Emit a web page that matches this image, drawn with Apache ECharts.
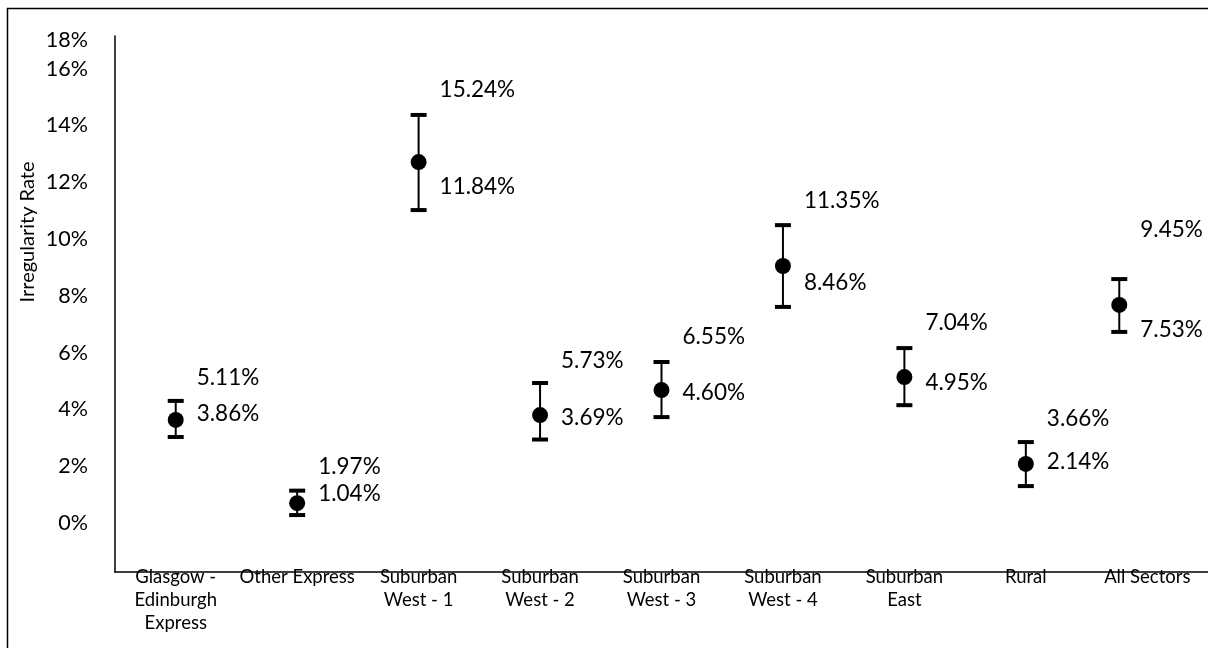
<!DOCTYPE html>
<html>
<head>
<meta charset="utf-8">
<script src="https://cdn.jsdelivr.net/npm/echarts@6/dist/echarts.min.js"></script>
<style>
  html, body { margin: 0; padding: 0; background: #fff; }
  #chart { width: 1208px; height: 648px; }
</style>
</head>
<body>
<div id="chart"></div>
<script>
// categories along the x axis
const categories = [
  'Glasgow -\nEdinburgh\nExpress', 'Other Express', 'Suburban\nWest - 1', 'Suburban\nWest - 2',
  'Suburban\nWest - 3', 'Suburban\nWest - 4', 'Suburban\nEast', 'Rural', 'All Sectors'
];
// point estimate and error bar ends (percent)
const rate  = [3.63, 0.70, 12.71, 3.80, 4.68, 9.05, 5.14, 2.08, 7.68];
const lower = [3.03, 0.28, 11.02, 2.94, 3.73, 7.61, 4.15, 1.30, 6.73];
const upper = [4.30, 1.14, 14.37, 4.93, 5.67, 10.49, 6.16, 2.85, 8.59];
// data labels printed beside each bar
const upperLabel = [5.11, 1.97, 15.24, 5.73, 6.55, 11.35, 7.04, 3.66, 9.45];
const lowerLabel = [3.86, 1.04, 11.84, 3.69, 4.60, 8.46, 4.95, 2.14, 7.53];
// y tick labels and where they sit on the axis
const yTickValues = [0, 2, 4, 6, 8, 10, 12, 14, 16, 17];
const yTickText = ['0%', '2%', '4%', '6%', '8%', '10%', '12%', '14%', '16%', '18%'];

const FONT = 'Lato, "Open Sans", sans-serif';
const chart = echarts.init(document.getElementById('chart'));

function renderBar(params, api) {
  const i = api.value(0);
  const last = i === categories.length - 1;
  const dx = last ? -28 : 0;
  const top = api.coord([i, api.value(2)]);
  const bot = api.coord([i, api.value(1)]);
  const mid = api.coord([i, api.value(3)]);
  const up = api.coord([i, api.value(4)]);
  const lo = api.coord([i, api.value(5)]);
  const x = top[0] + dx;
  const capW = 16, capH = 4;
  const labelStyle = (txt) => ({
    text: txt, fill: '#000', font: '22.5px ' + FONT,
    align: 'left', verticalAlign: 'middle', textAlign: 'left', textVerticalAlign: 'middle'
  });
  return {
    type: 'group',
    children: [
      { type: 'line', shape: { x1: x, y1: top[1], x2: x, y2: bot[1] }, style: { stroke: '#000', lineWidth: 2 } },
      { type: 'rect', shape: { x: x - capW / 2, y: top[1] - capH / 2, width: capW, height: capH }, style: { fill: '#000' } },
      { type: 'rect', shape: { x: x - capW / 2, y: bot[1] - capH / 2, width: capW, height: capH }, style: { fill: '#000' } },
      { type: 'circle', shape: { cx: x, cy: mid[1], r: 8 }, style: { fill: '#000' } },
      { type: 'text', x: x + 21, y: up[1] + (last ? -25 : 0), style: labelStyle(upperLabel[i].toFixed(2) + '%') },
      { type: 'text', x: x + 21, y: lo[1] + (last ? 21 : 0), style: labelStyle(lowerLabel[i].toFixed(2) + '%') }
    ]
  };
}

chart.setOption({
  backgroundColor: '#fff',
  animation: false,
  graphic: [
    { type: 'rect', left: 5, top: 6, shape: { width: 1210, height: 700 }, style: { fill: 'none', stroke: '#000', lineWidth: 1.5 }, z: 100 },
    {
      type: 'text', x: 28, y: 232, rotation: Math.PI / 2,
      style: { text: 'Irregularity Rate', font: '20px ' + FONT, fill: '#000', align: 'center', verticalAlign: 'middle', textAlign: 'center', textVerticalAlign: 'middle' }
    }
  ],
  grid: { left: 115, right: -1, top: 36, bottom: 76, containLabel: false },
  xAxis: {
    type: 'category',
    data: categories,
    axisLine: { show: true, onZero: false, lineStyle: { color: '#000', width: 1.5 } },
    axisTick: { show: false },
    axisLabel: { interval: 0, margin: -6, fontFamily: FONT, fontSize: 18.5, lineHeight: 23, color: '#000' },
    splitLine: { show: false }
  },
  yAxis: {
    type: 'value',
    min: -1.725,
    max: 17.15,
    axisLine: { show: true, lineStyle: { color: '#000', width: 1.5 } },
    axisTick: { show: false },
    splitLine: { show: false },
    axisLabel: {
      customValues: yTickValues,
      margin: 27,
      fontFamily: FONT,
      fontSize: 21.5,
      color: '#000',
      formatter: (v) => yTickText[yTickValues.indexOf(v)] ?? ''
    }
  },
  series: [{
    type: 'custom',
    renderItem: renderBar,
    encode: { x: 0, y: [1, 2, 3] },
    data: categories.map((c, i) => [i, lower[i], upper[i], rate[i], upperLabel[i], lowerLabel[i]]),
    clip: false
  }]
});
</script>
</body>
</html>
